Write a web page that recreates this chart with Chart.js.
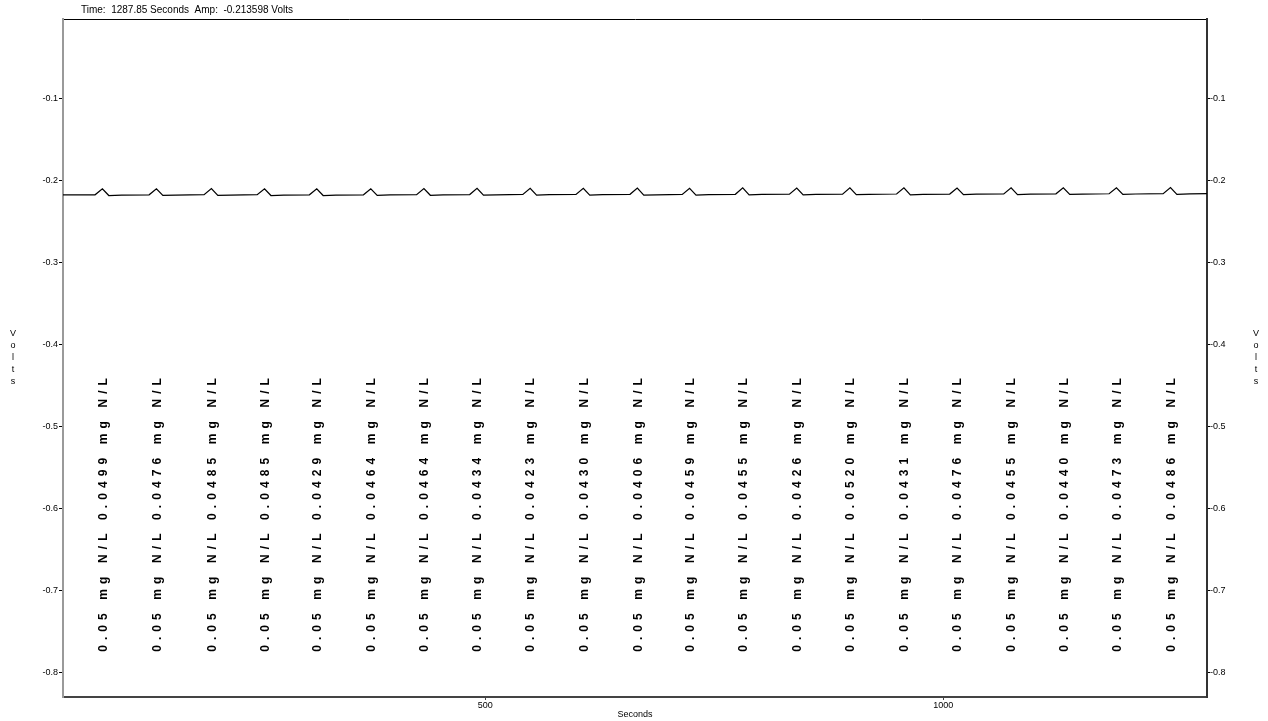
<!DOCTYPE html>
<html>
<head>
<meta charset="utf-8">
<title>Volts x Seconds</title>
<script src="https://cdn.jsdelivr.net/npm/chart.js@4.4.1/dist/chart.umd.min.js"></script>
<style>
  html, body { margin: 0; padding: 0; background: #fff; }
  #wrap { width: 1268px; height: 721px; }
</style>
</head>
<body>
<div id="wrap"><canvas id="grafico" width="1268" height="721"></canvas></div>
<script>
// Traço do sinal (segundos / volts)
const traceSeconds = [
  39,
  74, 82, 89, 103,
  133, 141, 148, 162,
  193, 201, 208, 222,
  251, 259, 266, 280,
  308, 316, 323, 337,
  367, 375, 382, 396,
  425, 433, 440, 454,
  483, 491, 498, 512,
  541, 549, 556, 570,
  599, 607, 614, 628,
  658, 666, 673, 687,
  715, 723, 730, 744,
  773, 781, 788, 802,
  832, 840, 847, 861,
  890, 898, 905, 919,
  949, 957, 964, 978,
  1007, 1015, 1022, 1036,
  1066, 1074, 1081, 1095,
  1123, 1131, 1138, 1152,
  1181, 1189, 1196, 1210,
  1240, 1248, 1255, 1269,
  1287.85
];
const traceVolts = [
  -0.2178,
  -0.2178, -0.2104, -0.2187, -0.2182,
  -0.2178, -0.2105, -0.2186, -0.2181,
  -0.2177, -0.2103, -0.2186, -0.2181,
  -0.2177, -0.2104, -0.2187, -0.2182,
  -0.2178, -0.2105, -0.2187, -0.2182,
  -0.2178, -0.2106, -0.2185, -0.2180,
  -0.2176, -0.2102, -0.2184, -0.2179,
  -0.2175, -0.2100, -0.2183, -0.2178,
  -0.2174, -0.2099, -0.2182, -0.2177,
  -0.2173, -0.2098, -0.2181, -0.2176,
  -0.2172, -0.2097, -0.2183, -0.2178,
  -0.2174, -0.2099, -0.2181, -0.2176,
  -0.2172, -0.2094, -0.2179, -0.2174,
  -0.2170, -0.2096, -0.2179, -0.2174,
  -0.2170, -0.2094, -0.2177, -0.2172,
  -0.2168, -0.2093, -0.2178, -0.2173,
  -0.2169, -0.2095, -0.2176, -0.2171,
  -0.2167, -0.2094, -0.2175, -0.2170,
  -0.2166, -0.2093, -0.2174, -0.2169,
  -0.2165, -0.2092, -0.2173, -0.2168,
  -0.2164, -0.2091, -0.2172, -0.2167,
  -0.2163
];

// Picos e concentrações anotadas
const peakSeconds = [82, 141, 201, 259, 316, 375, 433, 491, 549, 607, 666,
                     723, 781, 840, 898, 957, 1015, 1074, 1131, 1189, 1248];
const standardLabels = ['0.05', '0.05', '0.05', '0.05', '0.05', '0.05', '0.05',
                        '0.05', '0.05', '0.05', '0.05', '0.05', '0.05', '0.05',
                        '0.05', '0.05', '0.05', '0.05', '0.05', '0.05', '0.05'];
const measuredLabels = ['0.0499', '0.0476', '0.0485', '0.0485', '0.0429', '0.0464', '0.0464',
                        '0.0434', '0.0423', '0.0430', '0.0406', '0.0459', '0.0455', '0.0426',
                        '0.0520', '0.0431', '0.0476', '0.0455', '0.0440', '0.0473', '0.0486'];

// Eixos
const yTicks = [-0.1, -0.2, -0.3, -0.4, -0.5, -0.6, -0.7, -0.8];
const xTicks = [500, 1000];
const header = 'Time:  1287.85 Seconds  Amp:  -0.213598 Volts';
const unidadeY = 'Volts';
const unidadeX = 'Seconds';

const labelCenterVolts = -0.605;
const fonte = '"Liberation Sans", Arial, sans-serif';

const anotacoes = {
  id: 'anotacoes',
  afterDraw(chart) {
    const { ctx, chartArea, scales } = chart;
    ctx.save();

    // Rótulos verticais de cada pico
    ctx.font = 'bold 12px ' + fonte;
    ctx.letterSpacing = '5.1px';
    ctx.fillStyle = '#000';
    ctx.textAlign = 'center';
    ctx.textBaseline = 'middle';
    const yCentro = scales.y.getPixelForValue(labelCenterVolts);
    peakSeconds.forEach((t, i) => {
      const x = scales.x.getPixelForValue(t) + 1;
      ctx.save();
      ctx.translate(x, yCentro);
      ctx.rotate(-Math.PI / 2);
      ctx.fillText(`${standardLabels[i]} mg N/L ${measuredLabels[i]} mg N/L`, 0, 0);
      ctx.restore();
    });
    ctx.letterSpacing = '0px';

    // Cabeçalho
    ctx.font = '10px ' + fonte;
    ctx.textAlign = 'left';
    ctx.fillText(header, chartArea.left + 18, 10);

    // "Volts" empilhado dos dois lados
    ctx.font = '9px ' + fonte;
    ctx.textAlign = 'center';
    const meio = (chartArea.top + chartArea.bottom) / 2;
    const letras = unidadeY.split('');
    letras.forEach((c, i) => {
      const y = meio + (i - (letras.length - 1) / 2) * 12;
      ctx.fillText(c, 13, y);
      ctx.fillText(c, 1256, y);
    });
    ctx.restore();
  }
};

const tickFont = { family: fonte, size: 9 };

const ctx = document.getElementById('grafico').getContext('2d');
const chart = new Chart(ctx, {
  type: 'line',
  data: {
    datasets: [{
      data: traceSeconds.map((s, i) => ({ x: s, y: traceVolts[i] })),
      borderColor: '#000',
      borderWidth: 1.2,
      pointRadius: 0,
      tension: 0,
      fill: false
    }]
  },
  options: {
    responsive: false,
    animation: false,
    layout: { padding: 0 },
    plugins: { legend: { display: false }, tooltip: { enabled: false } },
    scales: {
      x: {
        type: 'linear', position: 'bottom', min: 39, max: 1287.85,
        afterBuildTicks: (s) => { s.ticks = xTicks.map(v => ({ value: v })); },
        afterFit: (s) => { s.height = 24; },
        grid: { drawOnChartArea: false, drawTicks: true, tickLength: 3, tickColor: '#444' },
        border: { color: '#444', width: 2 },
        ticks: { color: '#000', font: tickFont, padding: 0, maxRotation: 0, callback: v => String(v) },
        title: { display: true, text: unidadeX, color: '#000', font: tickFont, padding: { top: 0, bottom: 1 } }
      },
      xTop: {
        type: 'linear', position: 'top', min: 39, max: 1287.85,
        afterFit: (s) => { s.height = 19; },
        grid: { display: false },
        border: { color: '#000', width: 1 },
        ticks: { display: false }
      },
      y: {
        type: 'linear', position: 'left', min: -0.83, max: -0.0035,
        afterBuildTicks: (s) => { s.ticks = yTicks.map(v => ({ value: v })); },
        afterFit: (s) => { s.width = 63; },
        grid: { drawOnChartArea: false, drawTicks: true, tickLength: 4, tickColor: '#000' },
        border: { color: '#9a9a9a', width: 2 },
        ticks: { color: '#000', font: tickFont, padding: 1, callback: v => v.toFixed(1) }
      },
      y2: {
        type: 'linear', position: 'right', min: -0.83, max: -0.0035,
        afterBuildTicks: (s) => { s.ticks = yTicks.map(v => ({ value: v })); },
        afterFit: (s) => { s.width = 61; },
        grid: { drawOnChartArea: false, drawTicks: true, tickLength: 3, tickColor: '#000' },
        border: { color: '#333', width: 2 },
        ticks: { color: '#000', font: tickFont, padding: 0, callback: v => v.toFixed(1) }
      }
    }
  },
  plugins: [anotacoes]
});
</script>
</body>
</html>
